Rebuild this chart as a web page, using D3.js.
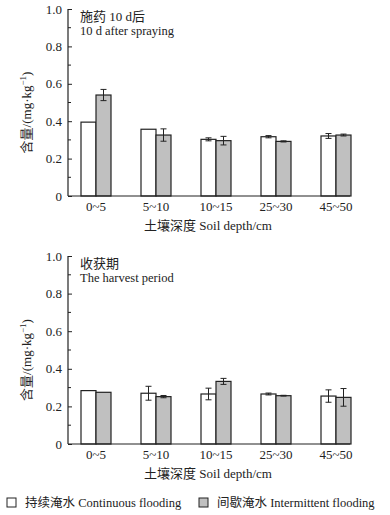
<!DOCTYPE html>
<html><head><meta charset="utf-8">
<script src="https://cdn.jsdelivr.net/npm/d3@7"></script>
<style>
body{margin:0;background:#fff;}
svg text{font-family:"Liberation Serif","Noto Sans CJK SC",serif;fill:#222;}
</style></head>
<body><svg id="c" width="390" height="515"></svg>
<script>
const categories = ["0~5","5~10","10~15","25~30","45~50"];
const yTicks = [0,0.2,0.4,0.6,0.8,1.0];
const sprayCont = [0.395,0.357,0.303,0.317,0.321];
const sprayContErr = [0,0,0.008,0.006,0.013];
const sprayInt = [0.54,0.326,0.296,0.292,0.326];
const sprayIntErr = [0.03,0.033,0.023,0.003,0.005];
const harvCont = [0.284,0.27,0.266,0.266,0.255];
const harvContErr = [0,0.037,0.031,0.005,0.033];
const harvInt = [0.275,0.252,0.333,0.257,0.248];
const harvIntErr = [0,0.006,0.016,0.002,0.047];
const seriesNames = ["持续淹水 Continuous flooding","间歇淹水 Intermittent flooding"];
const panelTitles = [["施药 10 d后","10 d after spraying"],["收获期","The harvest period"]];
const xTitle = "土壤深度 Soil depth/cm";

const svg = d3.select("#c");
const axisX0 = 68, axisX1 = 350;
const x = d3.scaleBand().domain(categories).range([66,366]).paddingInner(0.5).paddingOuter(0.25);
const sub = d3.scaleBand().domain([0,1]).range([0,x.bandwidth()]);
const colors = ["#ffffff","#c0c0c0"];

function panel(top, bottom, cont, contErr, intr, intrErr, titles){
  const y = d3.scaleLinear().domain([0,1]).range([bottom, top]);
  const g = svg.append("g");
  const data = categories.map((c,i)=>({c, v:[cont[i],intr[i]], e:[contErr[i],intrErr[i]]}));
  // bars
  data.forEach(d=>{
    [0,1].forEach(s=>{
      g.append("rect")
        .attr("x", x(d.c)+sub(s)).attr("y", y(d.v[s]))
        .attr("width", sub.bandwidth()).attr("height", y(0)-y(d.v[s]))
        .attr("fill", colors[s]).attr("stroke","#222").attr("stroke-width",1.2);
      if(d.e[s]>0){
        const cx = x(d.c)+sub(s)+sub.bandwidth()/2;
        const y1 = y(d.v[s]+d.e[s]), y2 = y(d.v[s]-d.e[s]);
        g.append("line").attr("x1",cx).attr("x2",cx).attr("y1",y1).attr("y2",y2).attr("stroke","#222").attr("stroke-width",1);
        [y1,y2].forEach(yy=>g.append("line").attr("x1",cx-3).attr("x2",cx+3).attr("y1",yy).attr("y2",yy).attr("stroke","#222").attr("stroke-width",1));
      }
    });
  });
  // y axis
  const ax = d3.axisLeft(y).tickValues(yTicks).tickSize(-4).tickPadding(6)
     .tickFormat(d=> d===0?"0":d3.format(".1f")(d));
  const ag = g.append("g").attr("transform",`translate(${axisX0},0)`).call(ax);
  ag.select(".domain").remove();
  ag.selectAll("line").attr("stroke","#222");
  ag.selectAll("text").attr("font-size",13).style("font-family","Liberation Serif");
  const minor = d3.range(0.1,1,0.2);
  g.selectAll(".mn").data(minor).enter().append("line")
    .attr("x1",axisX0).attr("x2",axisX0+3).attr("y1",d=>y(d)).attr("y2",d=>y(d)).attr("stroke","#222");
  g.append("line").attr("x1",axisX0).attr("x2",axisX0).attr("y1",y(1)).attr("y2",y(0)).attr("stroke","#222").attr("stroke-width",1.2);
  g.append("line").attr("x1",axisX0).attr("x2",axisX1).attr("y1",y(0)).attr("y2",y(0)).attr("stroke","#222").attr("stroke-width",1.2);
  // x labels
  categories.forEach(c=>{
    g.append("text").attr("x",x(c)+x.bandwidth()/2).attr("y",y(0)+15).attr("text-anchor","middle")
     .attr("font-size",13).text(c);
  });
  g.append("text").attr("x",208).attr("y",y(0)+34).attr("text-anchor","middle").attr("font-size",13).text(xTitle);
  // titles
  g.append("text").attr("x",80).attr("y",top+12).attr("font-size",13).text(titles[0]);
  g.append("text").attr("x",80).attr("y",top+26).attr("font-size",12.5).text(titles[1]);
  // y title
  const yt = g.append("text").attr("transform",`translate(31,${(top+bottom)/2+10}) rotate(-90)`)
    .attr("text-anchor","middle").attr("font-size",13);
  yt.append("tspan").text("含量/(mg·kg");
  yt.append("tspan").attr("dy",-5).attr("font-size",9).text("−1");
  yt.append("tspan").attr("dy",5).text(")");
}
panel(9,196,sprayCont,sprayContErr,sprayInt,sprayIntErr,panelTitles[0]);
panel(256,444,harvCont,harvContErr,harvInt,harvIntErr,panelTitles[1]);

// legend
const lx = [7,199];
seriesNames.forEach((n,i)=>{
  svg.append("rect").attr("x",lx[i]).attr("y",498).attr("width",9).attr("height",9)
    .attr("fill",colors[i]).attr("stroke","#222").attr("stroke-width",1);
  svg.append("text").attr("x",lx[i]+18).attr("y",507).attr("font-size",12.5).text(n);
});
</script></body></html>
